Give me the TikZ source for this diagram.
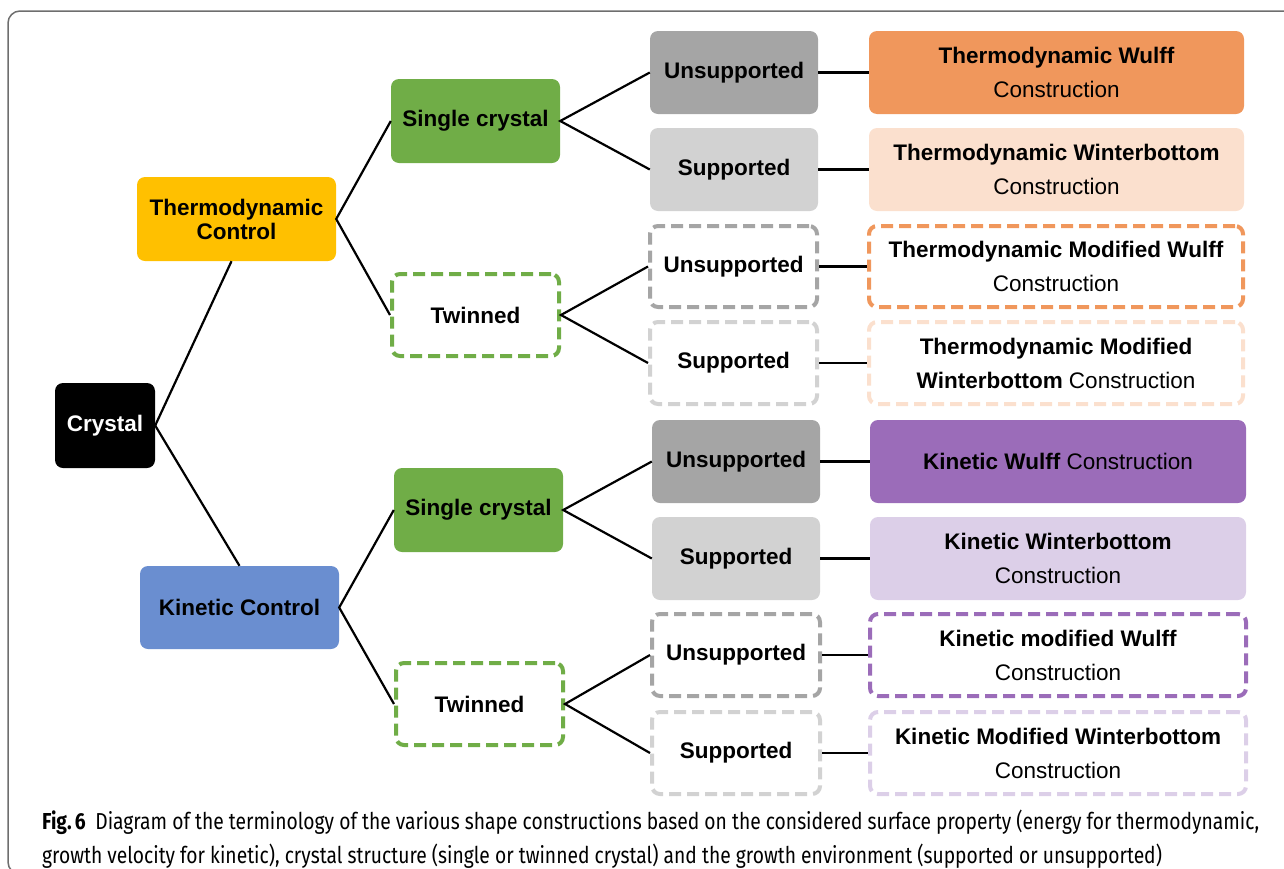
\documentclass[tikz,border=0pt]{standalone}
\usepackage{fontspec}
\setmainfont{Liberation Sans}
\newfontfamily\capfont{Fira Sans}
\usetikzlibrary{calc}
\definecolor{cyellow}{HTML}{FFC000}
\definecolor{cblue}{HTML}{6A8ED0}
\definecolor{cgreen}{HTML}{70AD47}
\definecolor{cgray}{HTML}{A5A5A5}
\definecolor{clgray}{HTML}{D2D2D2}
\definecolor{corange}{HTML}{F0975C}
\definecolor{cpeach}{HTML}{FBE0CE}
\definecolor{cpurple}{HTML}{9B6CB9}
\definecolor{clav}{HTML}{DCCFE8}
\definecolor{cframe}{HTML}{6E6E6E}
\begin{document}
\begin{tikzpicture}[x=1pt,y=-1pt,
  box/.style={rounded corners=8pt, inner sep=0pt, align=center, draw=none,
    font=\fontsize{22.5}{34}\selectfont\bfseries},
  dbox/.style={box, fill=white, line width=4pt, dash pattern=on 12pt off 6pt},
  conn/.style={line width=2.2pt, black}]
\useasboundingbox (0,0) rectangle (1284,868);
\draw[cframe, line width=1.5pt, rounded corners=12pt] (1300,11) -- (8,11) -- (8,874) -- (40,874);

% level 0
\node[box, fill=black, text=white, minimum width=100pt, minimum height=85pt] (crystal) at (105,425.5) {Crystal};
% level 1
\node[box, fill=cyellow, minimum width=199pt, minimum height=84pt, font=\fontsize{22.5}{24}\selectfont\bfseries] (thermo) at (236.5,219) {Thermodynamic\\Control};
\node[box, fill=cblue, minimum width=199pt, minimum height=83pt] (kinetic) at (239.5,607.5) {Kinetic Control};
% level 2
\node[box, fill=cgreen, minimum width=169pt, minimum height=84pt] (sc1) at (475.5,121) {Single crystal};
\node[dbox, draw=cgreen, minimum width=167pt, minimum height=82pt] (tw1) at (475.5,315) {Twinned};
\node[box, fill=cgreen, minimum width=169pt, minimum height=84pt] (sc2) at (478.5,510) {Single crystal};
\node[dbox, draw=cgreen, minimum width=167pt, minimum height=82pt] (tw2) at (479.5,704) {Twinned};
% level 3
\node[box, fill=cgray, minimum width=168pt, minimum height=83pt] (u1) at (734,72.5) {Unsupported};
\node[box, fill=clgray, minimum width=168pt, minimum height=83pt] (s1) at (734,169.5) {Supported};
\node[dbox, draw=cgray, minimum width=167pt, minimum height=81pt] (u2) at (733.5,266.5) {Unsupported};
\node[dbox, draw=clgray, minimum width=167pt, minimum height=82pt] (s2) at (733.5,363) {Supported};
\node[box, fill=cgray, minimum width=168pt, minimum height=83pt] (u3) at (736,461.5) {Unsupported};
\node[box, fill=clgray, minimum width=168pt, minimum height=83pt] (s3) at (736,558.5) {Supported};
\node[dbox, draw=cgray, minimum width=168pt, minimum height=82pt] (u4) at (736,655) {Unsupported};
\node[dbox, draw=clgray, minimum width=168pt, minimum height=82pt] (s4) at (736,753) {Supported};
% level 4
\node[box, fill=corange, minimum width=375pt, minimum height=83pt] (r1) at (1056.5,72.5) {Thermodynamic Wulff\\\mdseries Construction};
\node[box, fill=cpeach, minimum width=375pt, minimum height=83pt] (r2) at (1056.5,169.5) {Thermodynamic Winterbottom\\\mdseries Construction};
\node[dbox, draw=corange, minimum width=374pt, minimum height=81pt] (r3) at (1056,266.5) {Thermodynamic Modified Wulff\\\mdseries Construction};
\node[dbox, draw=cpeach, minimum width=374pt, minimum height=82pt] (r4) at (1056,363) {Thermodynamic Modified\\Winterbottom \mdseries Construction};
\node[box, fill=cpurple, minimum width=376pt, minimum height=83pt] (r5) at (1058,461.5) {Kinetic Wulff \mdseries Construction};
\node[box, fill=clav, minimum width=376pt, minimum height=83pt] (r6) at (1058,558.5) {Kinetic Winterbottom\\\mdseries Construction};
\node[dbox, draw=cpurple, minimum width=376pt, minimum height=82pt] (r7) at (1058,655) {Kinetic modified Wulff\\\mdseries Construction};
\node[dbox, draw=clav, minimum width=376pt, minimum height=82pt] (r8) at (1058,753) {Kinetic Modified Winterbottom\\\mdseries Construction};

% connectors
\draw[conn] (crystal.east) -- ($(thermo.south)+(-5,0)$);
\draw[conn] (crystal.east) -- (kinetic.north);
\foreach \p/\a/\b in {thermo/sc1/tw1, kinetic/sc2/tw2, sc1/u1/s1, tw1/u2/s2, sc2/u3/s3, tw2/u4/s4}{
  \draw[conn] (\a.west) -- (\p.east) -- (\b.west);
}
\foreach \a/\b in {u1/r1, s1/r2, u2/r3, s2/r4, u3/r5, s3/r6, u4/r7, s4/r8}{
  \draw[conn] (\a.east) -- (\b.west);
}

% caption
\node[anchor=base west, inner sep=0pt, font=\capfont\fontsize{22}{26}\selectfont] (cap1) at (42,829)
  {\scalebox{0.875}[1.05]{\textbf{Fig.\,6}\enspace Diagram of the terminology of the various shape constructions based on the considered surface property (energy for thermodynamic,}};
\node[anchor=base west, inner sep=0pt, font=\capfont\fontsize{22}{26}\selectfont] (cap2) at (42,863)
  {\scalebox{0.875}[1.05]{growth velocity for kinetic), crystal structure (single or twinned crystal) and the growth environment (supported or unsupported)}};
\end{tikzpicture}
\end{document}
